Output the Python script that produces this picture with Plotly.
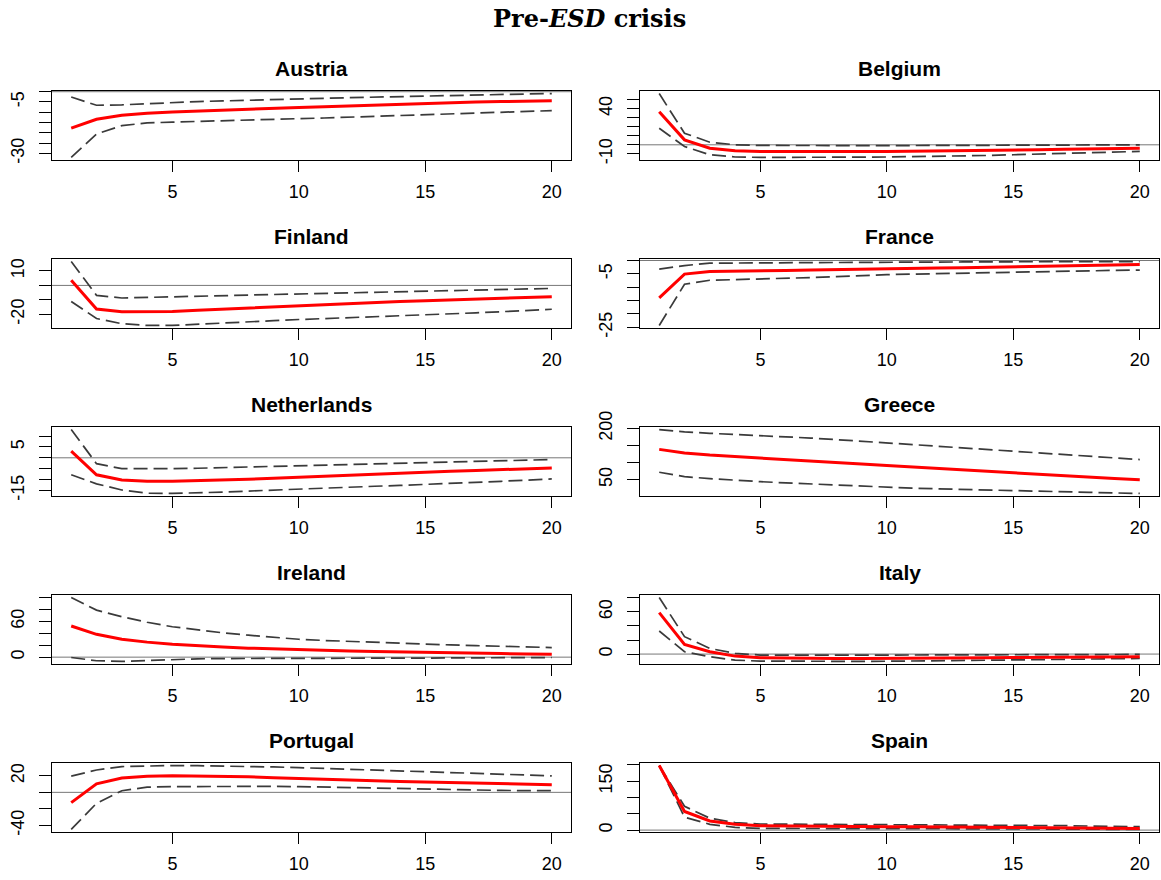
import plotly.graph_objects as go

# ---------------- data ----------------
horizons = list(range(1, 21))
countries = ["Austria", "Belgium", "Finland", "France", "Netherlands",
             "Greece", "Ireland", "Italy", "Portugal", "Spain"]

austria_mean = [-17.7, -13.4, -11.5, -10.5, -9.9, -9.4, -9.0, -8.5, -8.1, -7.7,
                -7.3, -6.9, -6.5, -6.0, -5.6, -5.3, -5.0, -4.8, -4.6, -4.4]
austria_upper = [-2.6, -6.6, -6.4, -5.8, -5.2, -4.8, -4.5, -4.1, -3.8, -3.5,
                 -3.2, -2.9, -2.6, -2.4, -2.1, -1.8, -1.6, -1.3, -1.1, -0.9]
austria_lower = [-32.0, -20.6, -16.5, -15.2, -14.8, -14.4, -14.1, -13.8, -13.4, -13.1,
                 -12.8, -12.4, -12.1, -11.7, -11.3, -11.0, -10.6, -10.2, -9.7, -9.2]

belgium_mean = [36.6, 5.5, -3.7, -6.6, -7.3, -7.5, -7.6, -7.6, -7.5, -7.3,
                -7.1, -6.8, -6.5, -6.2, -5.8, -5.4, -5.0, -4.6, -4.2, -3.7]
belgium_upper = [56.8, 12.8, 2.9, 0.0, -0.7, -0.9, -1.0, -1.0, -1.0, -0.9,
                 -0.8, -0.7, -0.6, -0.5, -0.4, -0.3, -0.2, -0.1, 0.0, 0.0]
belgium_lower = [18.3, -1.8, -11.0, -13.5, -13.9, -14.0, -14.0, -13.9, -13.7, -13.5,
                 -13.2, -12.8, -12.3, -11.8, -11.0, -10.3, -9.6, -8.9, -8.1, -7.3]

finland_mean = [3.5, -16.3, -18.2, -18.2, -18.0, -17.2, -16.4, -15.5, -14.7, -13.9,
                -13.2, -12.6, -11.9, -11.2, -10.6, -10.0, -9.4, -8.8, -8.3, -7.8]
finland_upper = [16.5, -6.9, -8.7, -8.4, -8.0, -7.6, -7.2, -6.7, -6.3, -5.9,
                 -5.5, -5.1, -4.7, -4.4, -4.0, -3.6, -3.2, -2.8, -2.5, -2.1]
finland_lower = [-11.1, -22.9, -26.5, -27.7, -27.7, -27.0, -26.2, -25.3, -24.4, -23.6,
                 -23.0, -22.4, -21.8, -21.2, -20.6, -19.8, -19.0, -18.2, -17.4, -16.5]

france_mean = [-14.0, -5.1, -4.1, -3.9, -3.8, -3.7, -3.6, -3.5, -3.35, -3.2,
               -3.0, -2.85, -2.7, -2.5, -2.3, -2.15, -2.0, -1.8, -1.65, -1.5]
france_upper = [-3.2, -1.9, -1.0, -1.0, -1.0, -0.9, -0.85, -0.75, -0.7, -0.6,
                -0.6, -0.6, -0.55, -0.5, -0.5, -0.45, -0.45, -0.4, -0.4, -0.4]
france_lower = [-24.3, -8.9, -7.4, -7.2, -7.0, -6.7, -6.4, -6.0, -5.6, -5.3,
                -5.1, -4.9, -4.7, -4.6, -4.4, -4.2, -4.0, -3.9, -3.7, -3.6]

netherlands_mean = [3.1, -7.8, -10.2, -10.8, -10.8, -10.6, -10.3, -9.9, -9.4, -8.9,
                    -8.4, -8.0, -7.5, -7.1, -6.6, -6.2, -5.8, -5.4, -5.0, -4.7]
netherlands_upper = [13.0, -2.7, -5.0, -5.1, -5.0, -4.8, -4.5, -4.3, -4.0, -3.75,
                     -3.4, -3.1, -2.8, -2.5, -2.2, -1.9, -1.6, -1.3, -1.0, -0.8]
netherlands_lower = [-7.8, -12.0, -14.8, -16.3, -16.4, -16.2, -15.8, -15.3, -14.8, -14.4,
                     -14.0, -13.5, -13.1, -12.7, -12.3, -11.8, -11.3, -10.8, -10.3, -9.7]

greece_mean = [138.8, 128.0, 122.0, 118.0, 114.0, 109.5, 105.0, 100.5, 96.0, 91.4,
               87.0, 82.5, 78.0, 73.5, 68.7, 64.5, 60.5, 56.5, 53.0, 50.0]
greece_upper = [197.0, 190.0, 186.0, 183.0, 180.0, 176.0, 172.0, 167.5, 162.5, 157.6,
                152.5, 147.5, 143.0, 138.0, 133.0, 128.0, 123.0, 118.0, 113.5, 109.0]
greece_lower = [71.7, 58.8, 53.0, 48.0, 44.0, 40.5, 37.0, 33.5, 30.3, 27.3,
                25.0, 23.0, 21.0, 19.0, 17.4, 15.8, 14.2, 12.7, 11.1, 9.5]

ireland_mean = [52.2, 38.3, 30.0, 25.2, 21.7, 19.0, 16.9, 15.1, 13.6, 12.2,
                11.2, 10.3, 9.5, 8.6, 7.8, 7.2, 6.6, 6.0, 5.5, 5.0]
ireland_upper = [100.0, 78.9, 67.8, 58.5, 51.0, 45.5, 40.8, 36.8, 33.2, 30.0,
                 28.0, 26.3, 24.8, 23.2, 21.7, 20.5, 19.3, 18.0, 17.0, 16.1]
ireland_lower = [-0.6, -6.0, -7.2, -5.5, -3.3, -2.8, -2.4, -2.1, -1.9, -1.7,
                 -1.7, -1.7, -1.7, -1.7, -1.7, -1.5, -1.3, -1.0, -0.8, -0.6]

italy_mean = [59.0, 13.8, 3.3, -2.9, -5.2, -5.8, -6.1, -6.2, -6.2, -6.2,
              -6.0, -5.8, -5.5, -5.2, -4.8, -4.6, -4.4, -4.2, -4.0, -3.8]
italy_upper = [80.5, 24.8, 8.1, 1.0, -1.4, -1.6, -1.6, -1.6, -1.5, -1.4,
               -1.3, -1.2, -1.1, -1.0, -0.9, -0.8, -0.7, -0.6, -0.55, -0.5]
italy_lower = [32.9, 3.3, -3.8, -8.6, -10.0, -10.3, -10.5, -10.5, -10.4, -10.2,
               -10.0, -9.7, -9.3, -8.9, -8.5, -8.0, -7.5, -7.0, -6.6, -6.2]

portugal_mean = [-12.5, 10.4, 17.5, 19.6, 20.0, 19.8, 19.4, 18.8, 17.8, 16.7,
                 15.8, 14.9, 14.1, 13.3, 12.5, 11.8, 11.0, 10.3, 9.7, 9.2]
portugal_upper = [19.6, 27.1, 31.3, 32.3, 32.5, 32.3, 32.0, 31.5, 30.8, 30.0,
                  29.0, 28.0, 26.8, 25.5, 24.2, 23.2, 22.2, 21.3, 20.6, 20.0]
portugal_lower = [-45.0, -13.3, 2.0, 6.25, 7.0, 7.2, 7.3, 7.3, 7.2, 7.0,
                  6.4, 5.8, 5.0, 4.2, 3.5, 3.0, 2.6, 2.3, 2.1, 2.0]

spain_mean = [198.0, 57.0, 28.0, 17.7, 13.5, 12.5, 11.8, 11.3, 10.8, 10.4,
              10.0, 9.6, 9.1, 8.7, 8.3, 7.7, 7.1, 6.5, 5.8, 5.2]
spain_upper = [198.0, 73.0, 36.5, 23.0, 18.7, 18.4, 18.2, 18.0, 17.9, 17.7,
               17.4, 17.0, 16.6, 16.1, 15.6, 14.6, 13.6, 12.5, 11.4, 10.4]
spain_lower = [198.0, 39.6, 17.7, 8.3, 5.2, 4.8, 4.5, 4.3, 4.1, 4.0,
               4.0, 4.0, 4.0, 4.0, 4.0, 3.6, 3.2, 2.8, 2.4, 2.0]

x_tickvals = [5, 10, 15, 20]

austria_yticks = [-30, -25, -20, -15, -10, -5, 0]
austria_ylabels = ["-30", "", "", "", "", "-5", ""]
belgium_yticks = [-10, 0, 10, 20, 30, 40, 50]
belgium_ylabels = ["-10", "", "", "", "", "40", ""]
finland_yticks = [-20, -10, 0, 10]
finland_ylabels = ["-20", "", "", "10"]
france_yticks = [-25, -20, -15, -10, -5, 0]
france_ylabels = ["-25", "", "", "", "-5", ""]
netherlands_yticks = [-15, -10, -5, 0, 5, 10]
netherlands_ylabels = ["-15", "", "", "", "5", ""]
greece_yticks = [50, 100, 150, 200]
greece_ylabels = ["50", "", "", "200"]
ireland_yticks = [0, 20, 40, 60, 80, 100]
ireland_ylabels = ["0", "", "", "60", "", ""]
italy_yticks = [0, 20, 40, 60, 80]
italy_ylabels = ["0", "", "", "60", ""]
portugal_yticks = [-40, -20, 0, 20]
portugal_ylabels = ["-40", "", "", "20"]
spain_yticks = [0, 50, 100, 150, 200]
spain_ylabels = ["0", "", "", "150", ""]

panels = {
    "Austria": (austria_mean, austria_upper, austria_lower, austria_yticks, austria_ylabels),
    "Belgium": (belgium_mean, belgium_upper, belgium_lower, belgium_yticks, belgium_ylabels),
    "Finland": (finland_mean, finland_upper, finland_lower, finland_yticks, finland_ylabels),
    "France": (france_mean, france_upper, france_lower, france_yticks, france_ylabels),
    "Netherlands": (netherlands_mean, netherlands_upper, netherlands_lower, netherlands_yticks, netherlands_ylabels),
    "Greece": (greece_mean, greece_upper, greece_lower, greece_yticks, greece_ylabels),
    "Ireland": (ireland_mean, ireland_upper, ireland_lower, ireland_yticks, ireland_ylabels),
    "Italy": (italy_mean, italy_upper, italy_lower, italy_yticks, italy_ylabels),
    "Portugal": (portugal_mean, portugal_upper, portugal_lower, portugal_yticks, portugal_ylabels),
    "Spain": (spain_mean, spain_upper, spain_lower, spain_yticks, spain_ylabels),
}

# ---------------- layout geometry (pixels) ----------------
W, H = 1161, 880
col_px = [(52, 571), (640, 1159)]
box_top0, box_h, row_step = 91, 69, 168
title_off = 23

FONT = "Liberation Sans, Arial, Helvetica, sans-serif"
tick_font = dict(family=FONT, size=18, color="black")

fig = go.Figure()
layout_axes = {}
annotations = []
shapes = []

xr = [1 - 0.04 * 19, 20 + 0.04 * 19]

for i, name in enumerate(countries):
    mean, upper, lower, yt, yl = panels[name]
    r, c = divmod(i, 2)
    n = i + 1
    xa = "x" if n == 1 else f"x{n}"
    ya = "y" if n == 1 else f"y{n}"
    xkey = "xaxis" if n == 1 else f"xaxis{n}"
    ykey = "yaxis" if n == 1 else f"yaxis{n}"

    x0p, x1p = col_px[c]
    top = box_top0 + r * row_step
    bot = top + box_h
    xdom = [x0p / W, x1p / W]
    ydom = [1 - bot / H, 1 - top / H]

    allv = mean + upper + lower
    lo, hi = min(allv), max(allv)
    pad = 0.04 * (hi - lo)
    yr = [lo - pad, hi + pad]

    if yr[0] <= 0 <= yr[1]:
        shapes.append(dict(type="line", xref=f"{xa} domain", yref=ya, x0=0, x1=1, y0=0, y1=0,
                           line=dict(color="#777777", width=1), layer="below"))

    for band in (upper, lower):
        fig.add_trace(go.Scatter(x=horizons, y=band, mode="lines", xaxis=xa, yaxis=ya,
                                 line=dict(color="#3a3a3a", width=1.7, dash="14px,6px"),
                                 showlegend=False, hoverinfo="skip"))
    fig.add_trace(go.Scatter(x=horizons, y=mean, mode="lines", xaxis=xa, yaxis=ya,
                             line=dict(color="#ff0000", width=3),
                             showlegend=False))

    layout_axes[xkey] = dict(domain=xdom, anchor=ya, range=xr, tickvals=x_tickvals,
                             ticks="outside", ticklen=11, tickwidth=1, tickcolor="black",
                             showline=True, mirror=True, linecolor="black", linewidth=1,
                             showgrid=False, zeroline=False, tickfont=tick_font,
                             ticklabelstandoff=4, automargin=False)
    layout_axes[ykey] = dict(domain=ydom, anchor=xa, range=yr, tickvals=yt, ticktext=yl,
                             ticks="outside", ticklen=12, tickwidth=1, tickcolor="black",
                             showline=True, mirror=True, linecolor="black", linewidth=1,
                             showgrid=False, zeroline=False, tickfont=tick_font,
                             tickangle=-90, ticklabelstandoff=8, automargin=False)

    annotations.append(dict(text=f"<b>{name}</b>", xref="paper", yref="paper",
                            x=(xdom[0] + xdom[1]) / 2, y=1 - (top - title_off) / H,
                            xanchor="center", yanchor="middle", showarrow=False,
                            font=dict(family=FONT, size=21, color="black")))

annotations.append(dict(text="<b>Pre-<i>ESD</i> crisis</b>", xref="paper", yref="paper",
                        x=589 / W, y=1 - 18 / H, xanchor="center", yanchor="middle",
                        showarrow=False,
                        font=dict(family="DejaVu Serif, Liberation Serif, serif", size=24, color="black")))

fig.update_layout(width=W, height=H, margin=dict(l=0, r=0, t=0, b=0, autoexpand=False),
                  paper_bgcolor="white", plot_bgcolor="white", showlegend=False,
                  annotations=annotations, shapes=shapes, **layout_axes)

fig.write_html("out.html")
